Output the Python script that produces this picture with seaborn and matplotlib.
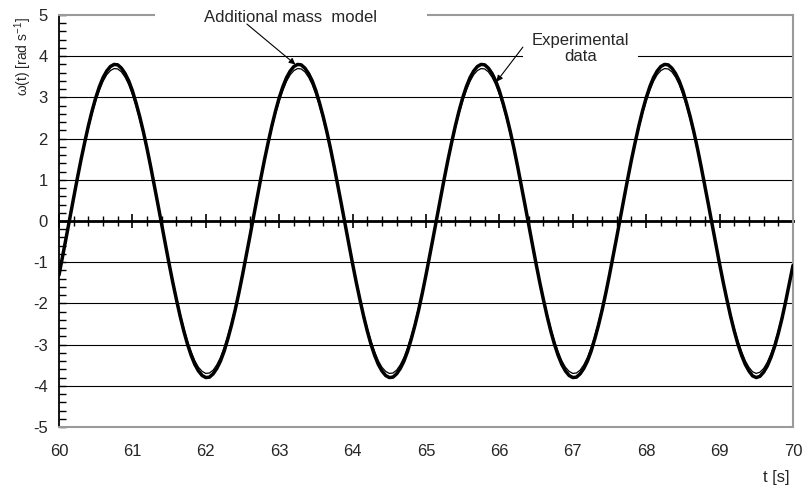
# Angular velocity: experimental data vs additional mass model
import numpy as np
import pandas as pd
import matplotlib
matplotlib.use("Agg")
import matplotlib.pyplot as plt
import seaborn as sns
from matplotlib.ticker import MultipleLocator, NullFormatter
from matplotlib.patches import Rectangle

# sample times, 0.05 s apart
t = np.linspace(60, 70, 201)

experimental = [
    -1.31, -0.85, -0.38, 0.10, 0.57, 1.04, 1.49, 1.91, 2.31, 2.67, 2.99, 3.26, 3.48,
    3.64, 3.75, 3.80, 3.79, 3.71, 3.58, 3.40, 3.16, 2.86, 2.53, 2.16, 1.75,
    1.31, 0.85, 0.38, -0.10, -0.57, -1.04, -1.49, -1.91, -2.31, -2.67, -2.99, -3.26, -3.48,
    -3.64, -3.75, -3.80, -3.79, -3.71, -3.58, -3.40, -3.16, -2.86, -2.53, -2.16, -1.75,
    -1.31, -0.85, -0.38, 0.10, 0.57, 1.04, 1.49, 1.91, 2.31, 2.67, 2.99, 3.26, 3.48,
    3.64, 3.75, 3.80, 3.79, 3.71, 3.58, 3.40, 3.16, 2.86, 2.53, 2.16, 1.75,
    1.31, 0.85, 0.38, -0.10, -0.57, -1.04, -1.49, -1.91, -2.31, -2.67, -2.99, -3.26, -3.48,
    -3.64, -3.75, -3.80, -3.79, -3.71, -3.58, -3.40, -3.16, -2.86, -2.53, -2.16, -1.75,
    -1.31, -0.85, -0.38, 0.10, 0.57, 1.04, 1.49, 1.91, 2.31, 2.67, 2.99, 3.26, 3.48,
    3.64, 3.75, 3.80, 3.79, 3.71, 3.58, 3.40, 3.16, 2.86, 2.53, 2.16, 1.75,
    1.31, 0.85, 0.38, -0.10, -0.57, -1.04, -1.49, -1.91, -2.31, -2.67, -2.99, -3.26, -3.48,
    -3.64, -3.75, -3.80, -3.79, -3.71, -3.58, -3.40, -3.16, -2.86, -2.53, -2.16, -1.75,
    -1.31, -0.85, -0.38, 0.10, 0.57, 1.04, 1.49, 1.91, 2.31, 2.67, 2.99, 3.26, 3.48,
    3.64, 3.75, 3.80, 3.79, 3.71, 3.58, 3.40, 3.16, 2.86, 2.53, 2.16, 1.75,
    1.31, 0.85, 0.38, -0.10, -0.57, -1.04, -1.49, -1.91, -2.31, -2.67, -2.99, -3.26, -3.48,
    -3.64, -3.76, -3.80, -3.77, -3.67, -3.52, -3.31, -3.05, -2.73, -2.37, -1.96, -1.52,
    -1.08,
]

# additional mass model (thin line)
model = [
    -1.28, -0.83, -0.37, 0.09, 0.56, 1.01, 1.45, 1.86, 2.25, 2.60, 2.91, 3.17, 3.39,
    3.55, 3.65, 3.70, 3.69, 3.62, 3.49, 3.31, 3.07, 2.79, 2.46, 2.10, 1.70,
    1.28, 0.83, 0.37, -0.09, -0.56, -1.01, -1.45, -1.86, -2.25, -2.60, -2.91, -3.17, -3.39,
    -3.55, -3.65, -3.70, -3.69, -3.62, -3.49, -3.31, -3.07, -2.79, -2.46, -2.10, -1.70,
    -1.28, -0.83, -0.37, 0.09, 0.56, 1.01, 1.45, 1.86, 2.25, 2.60, 2.91, 3.17, 3.39,
    3.55, 3.65, 3.70, 3.69, 3.62, 3.49, 3.31, 3.07, 2.79, 2.46, 2.10, 1.70,
    1.28, 0.83, 0.37, -0.09, -0.56, -1.01, -1.45, -1.86, -2.25, -2.60, -2.91, -3.17, -3.39,
    -3.55, -3.65, -3.70, -3.69, -3.62, -3.49, -3.31, -3.07, -2.79, -2.46, -2.10, -1.70,
    -1.28, -0.83, -0.37, 0.09, 0.56, 1.01, 1.45, 1.86, 2.25, 2.60, 2.91, 3.17, 3.39,
    3.55, 3.65, 3.70, 3.69, 3.62, 3.49, 3.31, 3.07, 2.79, 2.46, 2.10, 1.70,
    1.28, 0.83, 0.37, -0.09, -0.56, -1.01, -1.45, -1.86, -2.25, -2.60, -2.91, -3.17, -3.39,
    -3.55, -3.65, -3.70, -3.69, -3.62, -3.49, -3.31, -3.07, -2.79, -2.46, -2.10, -1.70,
    -1.28, -0.83, -0.37, 0.09, 0.56, 1.01, 1.45, 1.86, 2.25, 2.60, 2.91, 3.17, 3.39,
    3.55, 3.65, 3.70, 3.69, 3.62, 3.49, 3.31, 3.07, 2.79, 2.46, 2.10, 1.70,
    1.28, 0.83, 0.37, -0.09, -0.56, -1.01, -1.45, -1.86, -2.25, -2.60, -2.91, -3.17, -3.39,
    -3.55, -3.66, -3.70, -3.67, -3.58, -3.43, -3.22, -2.97, -2.66, -2.31, -1.91, -1.48,
    -1.05,
]

x_ticks = list(range(60, 71))
y_ticks = list(range(-5, 6))

df = pd.DataFrame({"t": t, "experimental": experimental, "model": model})

sns.set_style("white")
plt.rcParams["font.family"] = ["Liberation Sans", "DejaVu Sans"]
plt.rcParams["font.size"] = 12
plt.rcParams["axes.unicode_minus"] = False
plt.rcParams["mathtext.fontset"] = "custom"
plt.rcParams["mathtext.rm"] = "Liberation Sans"
plt.rcParams["mathtext.it"] = "Liberation Sans:italic"

fig = plt.figure(figsize=(8.03, 4.90), dpi=100)
ax = fig.add_axes([0.0735, 0.1286, 0.914, 0.8408])

sns.lineplot(data=df, x="t", y="experimental", ax=ax, color="black", lw=2.5, zorder=4)
sns.lineplot(data=df, x="t", y="model", ax=ax, color="black", lw=0.9, zorder=5)

ax.set_xlim(60, 70)
ax.set_ylim(-5, 5)
ax.set_xticks(x_ticks)
ax.set_yticks(y_ticks)
ax.yaxis.set_minor_locator(MultipleLocator(0.2))

# horizontal grid, skipping the frame lines
ax.yaxis.grid(True, color="black", lw=0.8)
gl = ax.get_ygridlines()
gl[0].set_visible(False)
gl[-1].set_visible(False)

for s in ["top", "bottom", "right"]:
    ax.spines[s].set_color("#9a9a9a")
    ax.spines[s].set_linewidth(1.5)
ax.spines["left"].set_color("black")
ax.spines["left"].set_linewidth(1.3)

ax.tick_params(axis="x", which="both", length=0, pad=12)
ax.tick_params(axis="y", which="major", direction="in", length=5, width=1, pad=8,
               left=True, color="black")
ax.tick_params(axis="y", which="minor", direction="in", length=5, width=1, left=True,
               color="black")

# zero axis with crossing ticks
sec = ax.secondary_xaxis(0.5)
sec.set_xticks(x_ticks)
sec.xaxis.set_minor_locator(MultipleLocator(0.2))
sec.xaxis.set_major_formatter(NullFormatter())
sec.tick_params(which="major", direction="inout", length=10, width=1.2, color="black")
sec.tick_params(which="minor", direction="inout", length=7, width=1, color="black")
for s in sec.spines.values():
    s.set_linewidth(2)
    s.set_color("black")

ax.set_xlabel("")
ax.set_ylabel("ω(t) [rad s$^{-1}$]", fontsize=10)
ax.yaxis.set_label_coords(-0.034, 0.90)
fig.text(790 / 803, 1 - 477 / 490, "t [s]", ha="right", va="center")

# gap in the top frame behind the model label
ax.add_patch(Rectangle((0.131, 0.97), 0.37, 0.06, transform=ax.transAxes,
                       fc="white", ec="none", zorder=3, clip_on=False))

# labels with arrows
ax.text(63.15, 4.95, "Additional mass  model", ha="center", va="center",
        zorder=6, clip_on=False)
ax.annotate("", xy=(63.22, 3.80), xytext=(62.56, 4.78), annotation_clip=False,
            arrowprops=dict(arrowstyle="-|>", color="black", lw=0.8, mutation_scale=9,
                            shrinkA=0, shrinkB=0), zorder=7)
ax.text(67.105, 4.19, "Experimental\ndata", ha="center", va="center",
        bbox=dict(boxstyle="square,pad=0.5", fc="white", ec="none"), zorder=6,
        linespacing=1.1)
ax.annotate("", xy=(65.96, 3.38), xytext=(66.32, 4.22), annotation_clip=False,
            arrowprops=dict(arrowstyle="-|>", color="black", lw=0.8, mutation_scale=9,
                            shrinkA=0, shrinkB=0), zorder=7)

fig.savefig("out.png", dpi=100)
